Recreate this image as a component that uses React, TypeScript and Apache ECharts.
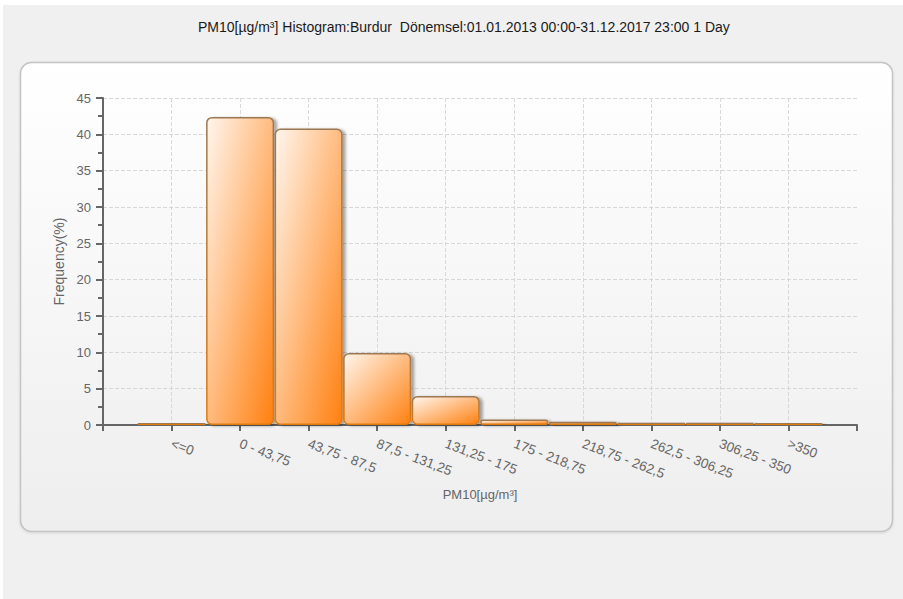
import React, { useEffect, useRef } from "react";
import * as echarts from "echarts";

const titleText = "PM10[µg/m³] Histogram:Burdur  Dönemsel:01.01.2013 00:00-31.12.2017 23:00 1 Day";
const categories = [
  "<=0",
  "0 - 43,75",
  "43,75 - 87,5",
  "87,5 - 131,25",
  "131,25 - 175",
  "175 - 218,75",
  "218,75 - 262,5",
  "262,5 - 306,25",
  "306,25 - 350",
  ">350",
];
const frequencies = [0.1, 42.4, 40.8, 9.9, 4.0, 0.75, 0.45, 0.3, 0.3, 0.15];
const yTicks = { min: 0, max: 45, interval: 5 };
const xAxisName = "PM10[µg/m³]";
const yAxisName = "Frequency(%)";

const FONT = "'Liberation Sans', Arial, sans-serif";

export default function App() {
  const ref = useRef<HTMLDivElement>(null);
  useEffect(() => {
    if (!ref.current) return;
    const chart = echarts.init(ref.current, null, { renderer: "svg" });
    const axisData = ["", ...categories, ""];
    const seriesData: any[] = ["-", ...frequencies, "-"];
    chart.setOption({
      animation: false,
      textStyle: { fontFamily: FONT },
      title: {
        text: titleText,
        left: 193,
        top: 15,
        textStyle: { fontSize: 14, fontWeight: "normal", color: "#1a1a1a", fontFamily: FONT },
      },
      graphic: [
        {
          type: "rect",
          z: -20,
          silent: true,
          shape: { x: 3, y: 5, width: 900, height: 594 },
          style: { fill: "#f0f0f0" },
        },
        {
          type: "rect",
          z: -10,
          silent: true,
          shape: { x: 20.5, y: 62.5, width: 872, height: 469, r: 11 },
          style: {
            fill: new echarts.graphic.LinearGradient(0, 0, 0, 1, [
              { offset: 0, color: "#ffffff" },
              { offset: 1, color: "#eeeeee" },
            ]),
            stroke: "#c4c4c4",
            lineWidth: 1.5,
            shadowColor: "rgba(0,0,0,0.12)",
            shadowBlur: 2,
            shadowOffsetY: 1,
          },
        },
      ],
      grid: { left: 103, right: 46, top: 98, bottom: 174, containLabel: false },
      xAxis: {
        type: "category",
        data: axisData,
        boundaryGap: false,
        name: xAxisName,
        nameLocation: "middle",
        nameGap: 63,
        nameTextStyle: { color: "#666", fontSize: 13, fontFamily: FONT },
        axisLine: { lineStyle: { color: "#666", width: 2 } },
        axisTick: { show: true, interval: 0, length: 6, lineStyle: { color: "#666", width: 2 } },
        axisLabel: {
          interval: 0,
          rotate: -21,
          color: "#666",
          fontSize: 13.5,
          fontFamily: FONT,
          margin: 18,
        },
        splitLine: {
          show: true,
          interval: (idx: number) => idx > 0 && idx < axisData.length - 1,
          lineStyle: { color: "#d8d8d8", type: "dashed", width: 1 },
        },
      },
      yAxis: {
        type: "value",
        min: yTicks.min,
        max: yTicks.max,
        interval: yTicks.interval,
        name: yAxisName,
        nameLocation: "middle",
        nameGap: 26,
        nameTextStyle: { color: "#666", fontSize: 14, fontFamily: FONT },
        axisLine: { show: true, lineStyle: { color: "#666", width: 2 } },
        axisTick: { show: true, length: 7, lineStyle: { color: "#666", width: 2 } },
        minorTick: { show: true, splitNumber: 2, length: 5, lineStyle: { color: "#666", width: 2 } },
        axisLabel: { color: "#666", fontSize: 13, fontFamily: FONT, margin: 12 },
        splitLine: { show: true, lineStyle: { color: "#d8d8d8", type: "dashed", width: 1 } },
      },
      series: [
        {
          type: "bar",
          data: seriesData,
          barWidth: 68,
          barMinHeight: 2,
          itemStyle: {
            borderRadius: 5,
            color: new echarts.graphic.LinearGradient(0, 0, 1, 1, [
              { offset: 0, color: "#fff6ee" },
              { offset: 1, color: "#ff8010" },
            ]),
            borderColor: new echarts.graphic.LinearGradient(0, 0, 0, 1, [
              { offset: 0, color: "#9c7852" },
              { offset: 1, color: "#e07a10" },
            ]),
            borderWidth: 1.5,
            shadowColor: "rgba(0,0,0,0.35)",
            shadowBlur: 3,
            shadowOffsetX: 3,
            shadowOffsetY: 1,
          },
        },
      ],
    });
    return () => chart.dispose();
  }, []);
  return (
    <div
      ref={ref}
      style={{ position: "absolute", left: 0, top: 0, width: 903, height: 599, background: "#ffffff" }}
    />
  );
}
